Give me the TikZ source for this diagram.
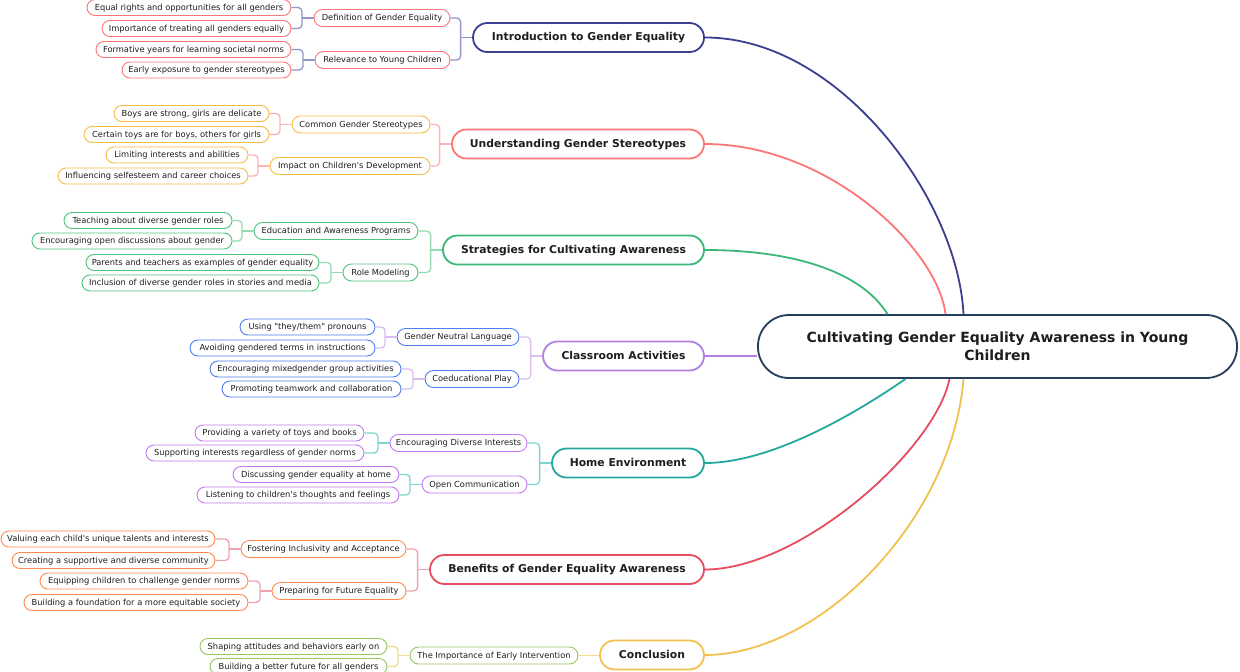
\documentclass[tikz,border=0pt]{standalone}
\usepackage{fontspec}
\newfontfamily\dvsans{DejaVu Sans}
\usetikzlibrary{calc}
\definecolor{txt}{HTML}{1E1E1E}
\definecolor{rootc}{HTML}{263E5A}
\definecolor{navy}{HTML}{3C3F8F}
\definecolor{navyL}{HTML}{9396C9}
\definecolor{salmon}{HTML}{FF7676}
\definecolor{salmonL}{HTML}{FFB3B3}
\definecolor{gold}{HTML}{F5BD45}
\definecolor{goldM}{HTML}{F2C14E}
\definecolor{goldL}{HTML}{F7DA92}
\definecolor{greenM}{HTML}{3BB877}
\definecolor{greenS}{HTML}{4DC47F}
\definecolor{greenL}{HTML}{94DBB2}
\definecolor{purpleM}{HTML}{B47FDF}
\definecolor{purpleL}{HTML}{D9BEF0}
\definecolor{blueS}{HTML}{4D7FF0}
\definecolor{tealM}{HTML}{23A89E}
\definecolor{tealL}{HTML}{80D4CD}
\definecolor{violetS}{HTML}{C679F5}
\definecolor{redM}{HTML}{E84C60}
\definecolor{redL}{HTML}{F0A3AD}
\definecolor{orangeS}{HTML}{FF8A4F}
\definecolor{limeS}{HTML}{98C55F}
\tikzset{
  leafbox/.style={draw=#1, line width=0.9pt, rounded corners=8pt, minimum height=16pt,
    inner sep=0pt, text=txt, fill=white, text height=6.5pt, text depth=1.5pt,
    font=\dvsans\fontsize{8.3}{10}\selectfont},
  subbox/.style={leafbox=#1, minimum height=17pt, rounded corners=8.5pt},
  mainbox/.style={draw=#1, line width=1.8pt, rounded corners=14.5pt, minimum height=29pt,
    inner sep=0pt, text=txt, fill=white, text height=8.5pt, text depth=2pt,
    font=\dvsans\fontsize{10.8}{13}\selectfont\bfseries},
  rootbox/.style={draw=rootc, line width=1.8pt, rounded corners=31pt, minimum height=63pt,
    minimum width=479pt, inner sep=0pt, text=txt, fill=white, align=center,
    font=\dvsans\fontsize{14}{18}\selectfont\bfseries},
  brk/.style={draw=#1, line width=1.3pt},
  trunk/.style={draw=#1, line width=1.8pt},
}
\newcommand{\bxn}[6]{\pgfmathsetmacro\bxw{#3-#2}\pgfmathsetmacro\bxc{(#2+#3)/2}%
  \node[#1, minimum width=\bxw pt] (#5) at (\bxc,#4) {#6};}
\newcommand{\forkto}[4]{%
  \coordinate (#2-b) at ($(#2.west)+(-#3,0)$);
  \draw[#1] (#2.west) -- (#2-b);
  \foreach \c in {#4} {\draw[#1, rounded corners=4pt] (\c.east) -| (#2-b);}}
\begin{document}
\begin{tikzpicture}[x=1pt,y=-1pt]
\useasboundingbox[fill=white] (0,0) rectangle (1240,672);
% root
\node[rootbox] (root) at (997.5,346.5) {Cultivating Gender Equality Awareness in Young\\Children};
% main topics
\bxn{mainbox=navy}{473}{704}{37.5}{m1}{Introduction to Gender Equality}
\bxn{mainbox=salmon}{452}{704}{144}{m2}{Understanding Gender Stereotypes}
\bxn{mainbox=greenM}{443}{704}{250}{m3}{Strategies for Cultivating Awareness}
\bxn{mainbox=purpleM}{543}{704}{356}{m4}{Classroom Activities}
\bxn{mainbox=tealM}{552}{704}{463}{m5}{Home Environment}
\bxn{mainbox=redM}{430}{704}{569.5}{m6}{Benefits of Gender Equality Awareness}
\bxn{mainbox=goldM}{600}{704}{655}{m7}{Conclusion}
% section 1
\bxn{subbox=salmon}{314}{450}{18}{s1a}{Definition of Gender Equality}
\bxn{subbox=salmon}{315}{450}{60}{s1b}{Relevance to Young Children}
\bxn{leafbox=salmon}{87}{291}{7.5}{l1a}{Equal rights and opportunities for all genders}
\bxn{leafbox=salmon}{102}{291}{28.5}{l1b}{Importance of treating all genders equally}
\bxn{leafbox=salmon}{96}{291}{49.5}{l1c}{Formative years for learning societal norms}
\bxn{leafbox=salmon}{122}{291}{70}{l1d}{Early exposure to gender stereotypes}
% section 2
\bxn{subbox=gold}{292}{430}{124.5}{s2a}{Common Gender Stereotypes}
\bxn{subbox=gold}{270}{430}{166}{s2b}{Impact on Children's Development}
\bxn{leafbox=gold}{114}{269}{113.5}{l2a}{Boys are strong, girls are delicate}
\bxn{leafbox=gold}{84}{269}{134.5}{l2b}{Certain toys are for boys, others for girls}
\bxn{leafbox=gold}{106}{248}{155}{l2c}{Limiting interests and abilities}
\bxn{leafbox=gold}{58}{248}{176}{l2d}{Influencing selfesteem and career choices}
% section 3
\bxn{subbox=greenS}{254}{418}{231}{s3a}{Education and Awareness Programs}
\bxn{subbox=greenS}{343}{418}{272.5}{s3b}{Role Modeling}
\bxn{leafbox=greenS}{64}{232}{220.5}{l3a}{Teaching about diverse gender roles}
\bxn{leafbox=greenS}{32}{232}{241}{l3b}{Encouraging open discussions about gender}
\bxn{leafbox=greenS}{86}{319}{262.5}{l3c}{Parents and teachers as examples of gender equality}
\bxn{leafbox=greenS}{82}{319}{283}{l3d}{Inclusion of diverse gender roles in stories and media}
% section 4
\bxn{subbox=blueS}{397}{519}{337}{s4a}{Gender Neutral Language}
\bxn{subbox=blueS}{425}{519}{379}{s4b}{Coeducational Play}
\bxn{leafbox=blueS}{240}{375}{327}{l4a}{Using "they/them" pronouns}
\bxn{leafbox=blueS}{190}{375}{348}{l4b}{Avoiding gendered terms in instructions}
\bxn{leafbox=blueS}{210}{401}{369}{l4c}{Encouraging mixedgender group activities}
\bxn{leafbox=blueS}{222}{401}{389}{l4d}{Promoting teamwork and collaboration}
% section 5
\bxn{subbox=violetS}{390}{527}{443}{s5a}{Encouraging Diverse Interests}
\bxn{subbox=violetS}{422}{527}{484.5}{s5b}{Open Communication}
\bxn{leafbox=violetS}{195}{364}{433}{l5a}{Providing a variety of toys and books}
\bxn{leafbox=violetS}{146}{364}{453}{l5b}{Supporting interests regardless of gender norms}
\bxn{leafbox=violetS}{233}{399}{474.5}{l5c}{Discussing gender equality at home}
\bxn{leafbox=violetS}{197}{399}{495}{l5d}{Listening to children's thoughts and feelings}
% section 6
\bxn{subbox=orangeS}{241}{406}{549}{s6a}{Fostering Inclusivity and Acceptance}
\bxn{subbox=orangeS}{272}{406}{591}{s6b}{Preparing for Future Equality}
\bxn{leafbox=orangeS}{1}{215}{539}{l6a}{Valuing each child's unique talents and interests}
\bxn{leafbox=orangeS}{12}{215}{560.5}{l6b}{Creating a supportive and diverse community}
\bxn{leafbox=orangeS}{40}{248}{581}{l6c}{Equipping children to challenge gender norms}
\bxn{leafbox=orangeS}{24}{248}{602.5}{l6d}{Building a foundation for a more equitable society}
% section 7
\bxn{subbox=limeS}{410}{578}{655.5}{s7}{The Importance of Early Intervention}
\bxn{leafbox=limeS}{200}{387}{646.5}{l7a}{Shaping attitudes and behaviors early on}
\bxn{leafbox=limeS}{210}{387}{666.5}{l7b}{Building a better future for all genders}
% trunks to root
\draw[trunk=navy] (m1.east) .. controls (840,37.5) and (958,200) .. ([xshift=-34]root.north);
\draw[trunk=salmon] (m2.east) .. controls (830,144) and (938,250) .. ([xshift=-52]root.north);
\draw[trunk=greenM] (m3.east) .. controls (790,250) and (860,270) .. ([xshift=-110]root.north);
\draw[trunk=purpleM] (m4.east) -- (m4.east -| root.west);
\draw[trunk=tealM] (m5.east) .. controls (780,463) and (875,400) .. ([xshift=-92]root.south);
\draw[trunk=redM] (m6.east) .. controls (800,569.5) and (935,450) .. ([xshift=-48]root.south);
\draw[trunk=goldM] (m7.east) .. controls (820,655) and (952,520) .. ([xshift=-34]root.south);
% forks main -> sub
\forkto{brk=navyL}{m1}{11.5}{s1a,s1b}
\forkto{brk=salmonL}{m2}{11.5}{s2a,s2b}
\forkto{brk=greenL}{m3}{11.5}{s3a,s3b}
\forkto{brk=purpleL}{m4}{11.5}{s4a,s4b}
\forkto{brk=tealL}{m5}{11.5}{s5a,s5b}
\forkto{brk=redL}{m6}{11.5}{s6a,s6b}
\draw[brk=goldL] (s7.east) -- (s7.east -| m7.west);
% forks sub -> leaf
\forkto{brk=navyL}{s1a}{11.5}{l1a,l1b}
\forkto{brk=navyL}{s1b}{11.5}{l1c,l1d}
\forkto{brk=salmonL}{s2a}{11.5}{l2a,l2b}
\forkto{brk=salmonL}{s2b}{11.5}{l2c,l2d}
\forkto{brk=greenL}{s3a}{11.5}{l3a,l3b}
\forkto{brk=greenL}{s3b}{11.5}{l3c,l3d}
\forkto{brk=purpleL}{s4a}{11.5}{l4a,l4b}
\forkto{brk=purpleL}{s4b}{11.5}{l4c,l4d}
\forkto{brk=tealL}{s5a}{11.5}{l5a,l5b}
\forkto{brk=tealL}{s5b}{11.5}{l5c,l5d}
\forkto{brk=redL}{s6a}{11.5}{l6a,l6b}
\forkto{brk=redL}{s6b}{11.5}{l6c,l6d}
\forkto{brk=goldL}{s7}{11.5}{l7a,l7b}
\end{tikzpicture}
\end{document}
